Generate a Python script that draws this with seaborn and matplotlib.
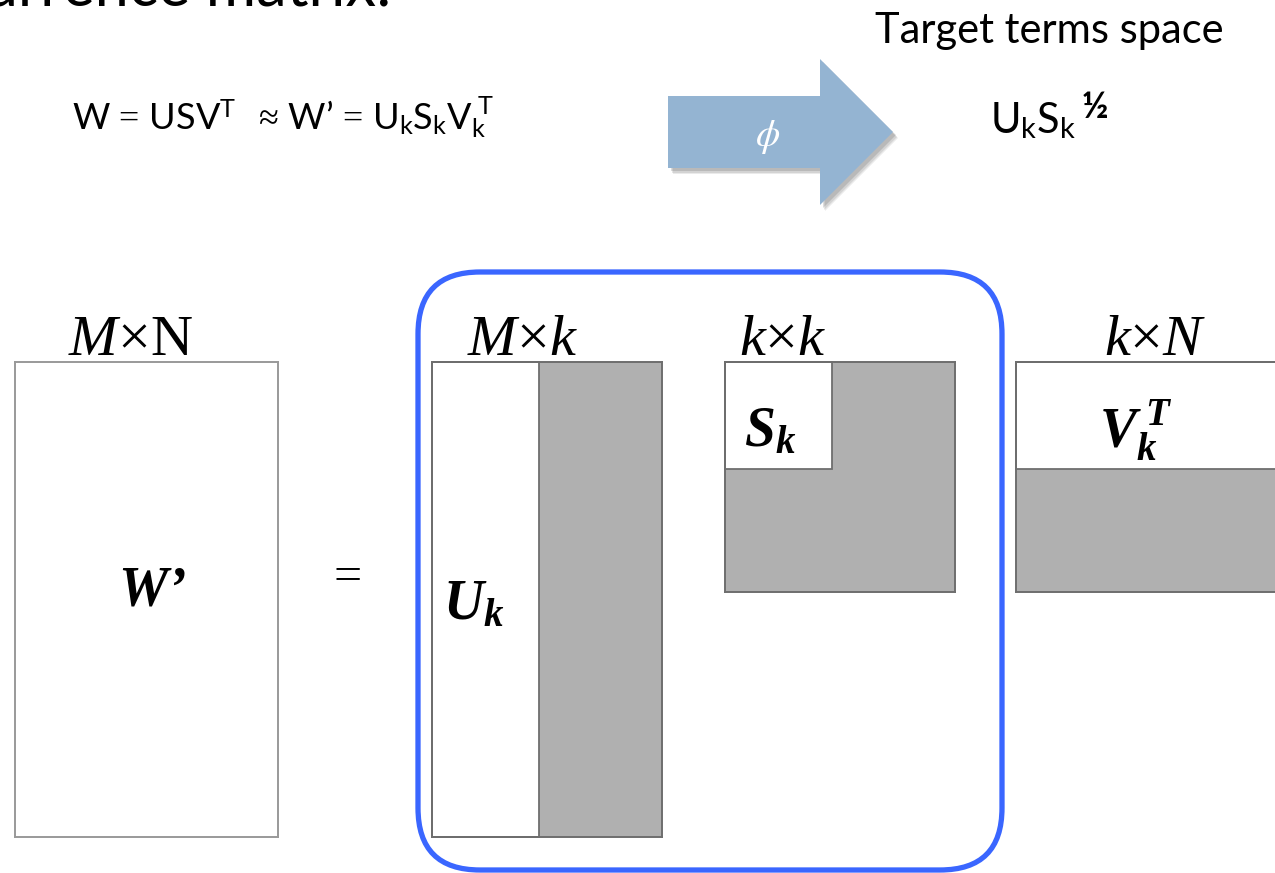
import matplotlib
matplotlib.use("Agg")
import matplotlib.pyplot as plt
import numpy as np
import seaborn as sns
from matplotlib.colors import ListedColormap
from matplotlib.patches import FancyBboxPatch, Polygon, Rectangle

sns.set_theme(style="white")
plt.rcParams['font.family'] = ['Lato', 'DejaVu Sans']
plt.rcParams['mathtext.fontset'] = 'custom'
plt.rcParams['mathtext.rm'] = 'Liberation Serif'
plt.rcParams['mathtext.it'] = 'Liberation Serif:italic'
plt.rcParams['mathtext.bf'] = 'Liberation Serif:italic:bold'
plt.rcParams['mathtext.sf'] = 'Lato'
plt.rcParams['mathtext.fallback'] = 'stix'

W, H = 1275, 873

# SVD blocks drawn on a grid_n x grid_n grid, first rank_k rows/cols kept
grid_n = 15
rank_k = 7
block_kinds = ["full", "cols", "square", "rows"]
block_dims = ["$M$×N", "$M$×$k$", "$k$×$k$", "$k$×$N$"]
block_symbols = [r"$\mathbf{W}$’", r"$\mathbf{U}_{\mathbf{k}}$",
                 r"$\mathbf{S}_{\mathbf{k}}$", r"$\mathbf{V}_{\mathbf{k}}^{\ \mathbf{T}}$"]

formula = (r"$\mathsf{W}\,=\,\mathsf{USV}^{\mathsf{T}}\ \ \approx\,\mathsf{W’}\,=\,"
           r"\mathsf{U}_{\mathsf{k}}\mathsf{S}_{\mathsf{k}}\mathsf{V}_{\mathsf{k}}^{\ \mathsf{T}}$")
target_title = "Target terms space"
target_formula = r"$\mathsf{U}_{\mathsf{k}}\mathsf{S}_{\mathsf{k}}$"
target_power = "½"
header_text = "co-occurrence matrix:"
phi_label = r"$\phi$"


def block_cells(kind):
    cells = np.zeros((grid_n, grid_n))
    if kind == "cols":
        cells[:, rank_k:] = 1
    elif kind == "rows":
        cells[rank_k:, :] = 1
    elif kind == "square":
        cells[:, :] = 1
        cells[:rank_k, :rank_k] = 0
    return cells


# layout in pixels (x0, y0, x1, y1), y downwards
block_boxes = [(15, 362, 278, 837), (432, 362, 662, 837),
               (725, 362, 955, 592), (1016, 362, 1295, 592)]
dim_pos = [(130, 355), (523, 355), (783, 355), (1155, 355)]
sym_pos = [(152, 592), (474, 605), (770, 432), (1136, 430)]

GRAY = "#b0b0b0"
EDGE = "#6e6e6e"
BLUE = "#3a66ff"
ARROW = "#94b4d2"

fig = plt.figure(figsize=(W / 100, H / 100), dpi=100)
cmap = ListedColormap(["white", GRAY])

for i, kind in enumerate(block_kinds):
    x0, y0, x1, y1 = block_boxes[i]
    axb = fig.add_axes([x0 / W, 1 - y1 / H, (x1 - x0) / W, (y1 - y0) / H])
    arr = block_cells(kind)
    sns.heatmap(arr, ax=axb, cmap=cmap, vmin=0, vmax=1, cbar=False,
                xticklabels=False, yticklabels=False, linewidths=0)
    for sp in axb.spines.values():
        sp.set_visible(True)
        sp.set_color("#999999" if i == 0 else EDGE)
        sp.set_linewidth(1.4)
    if arr.any():
        rr, cc = np.where(arr == 0)
        axb.add_patch(Rectangle((cc.min(), rr.min()), cc.max() - cc.min() + 1,
                                rr.max() - rr.min() + 1, fill=False,
                                ec=EDGE, lw=1.3, clip_on=False))

ax = fig.add_axes([0, 0, 1, 1], zorder=10)
ax.set_xlim(0, W)
ax.set_ylim(H, 0)
ax.axis("off")
ax.patch.set_alpha(0)

ax.text(392, 6, header_text, ha="right", va="baseline", fontsize=44, color="black")
ax.text(72, 130, formula, ha="left", va="baseline", fontsize=26, color="black")
ax.text(1049, 43, target_title, ha="center", va="baseline", fontsize=30, color="black")
ax.text(990, 133, target_formula, ha="left", va="baseline", fontsize=30, color="black")
ax.text(1082, 118, target_power, ha="left", va="baseline", fontsize=26,
        weight="bold", color="black")

arrow_pts = np.array([(668, 96), (820, 96), (820, 59), (893, 132),
                      (820, 205), (820, 168), (668, 168)])
for off, a in [((5, 6), 0.12), ((4, 5), 0.15), ((3, 3), 0.2)]:
    ax.add_patch(Polygon(arrow_pts + off, closed=True, fc="#555555", alpha=a, ec="none"))
ax.add_patch(Polygon(arrow_pts, closed=True, fc=ARROW, ec="none"))
ax.text(768, 137, phi_label, ha="center", va="center", fontsize=28, color="white",
        math_fontfamily="stix")

for (x, y), lab in zip(dim_pos, block_dims):
    ax.text(x, y, lab, ha="center", va="baseline", fontsize=42, color="black",
            family="Liberation Serif")
for (x, y), lab in zip(sym_pos, block_symbols):
    ax.text(x, y, lab, ha="center", va="center", fontsize=40, color="black",
            family="Liberation Serif", weight="bold", style="italic")

ax.text(348, 578, "=", ha="center", va="center", fontsize=36, color="black",
        family="Liberation Serif")

ax.add_patch(FancyBboxPatch((418, 272), 584, 598,
                            boxstyle="round,pad=0,rounding_size=62",
                            fill=False, ec=BLUE, lw=3.8))

fig.savefig("out.png", dpi=100)
